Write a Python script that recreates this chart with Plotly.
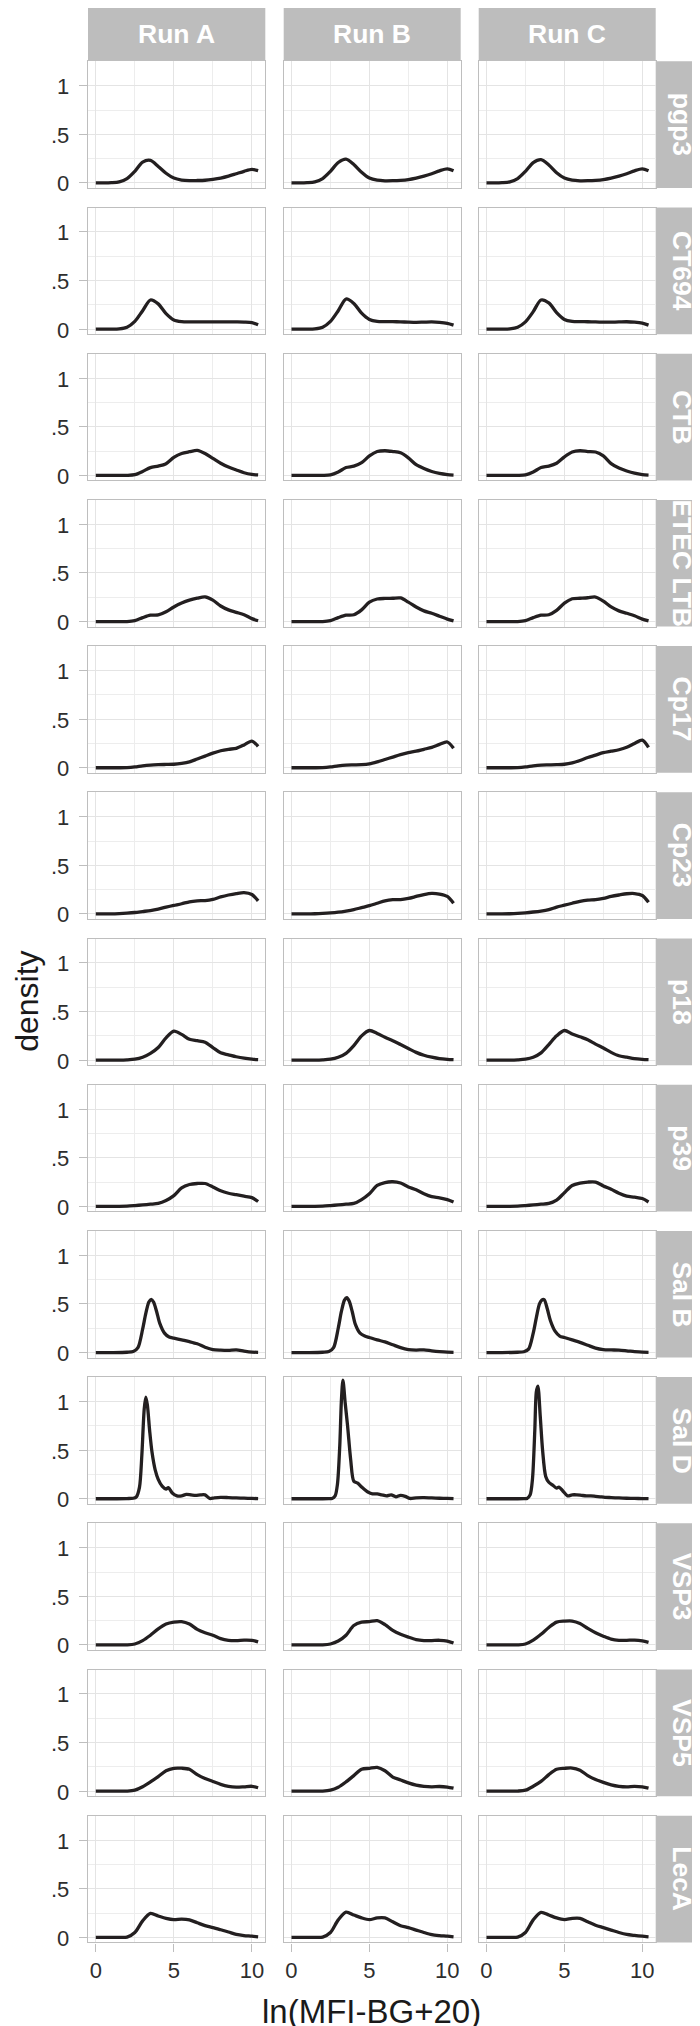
import plotly.graph_objects as go
from plotly.subplots import make_subplots

# ---------------- data ----------------
RUNS = ["Run A", "Run B", "Run C"]
ANTIGENS = ["pgp3", "CT694", "CTB", "ETEC LTB", "Cp17", "Cp23", "p18",
            "p39", "Sal B", "Sal D", "VSP3", "VSP5", "LecA"]

X_STD = [0, 0.5, 1, 1.5, 2, 2.5, 3, 3.5, 4, 4.5, 5, 5.5, 6, 6.5, 7, 7.5,
         8, 8.5, 9, 9.5, 10, 10.4]
X_SALB = [0, 1, 2, 2.4, 2.7, 3.0, 3.2, 3.4, 3.55, 3.7, 3.9, 4.1, 4.4, 4.7,
          5.0, 5.5, 6, 6.5, 7, 7.5, 8, 8.5, 9, 9.5, 10, 10.4]
X_SALD = [0, 1, 2, 2.4, 2.6, 2.8, 2.95, 3.1, 3.2, 3.3, 3.45, 3.6, 3.8, 4.0,
          4.25, 4.5, 4.65, 4.9, 5.2, 5.5, 5.8, 6.1, 6.4, 6.7, 7.0, 7.3, 7.6,
          8, 8.5, 9, 9.5, 10, 10.4]

PGP3 = [
    [0, 0, 0.003, 0.012, 0.045, 0.12, 0.215, 0.232, 0.17, 0.10, 0.05, 0.03, 0.024, 0.025, 0.028, 0.037, 0.05, 0.07, 0.095, 0.12, 0.14, 0.127],
    [0, 0, 0.003, 0.012, 0.045, 0.12, 0.21, 0.245, 0.19, 0.11, 0.05, 0.028, 0.022, 0.023, 0.027, 0.035, 0.05, 0.07, 0.095, 0.125, 0.145, 0.125],
    [0, 0, 0.003, 0.012, 0.045, 0.12, 0.21, 0.24, 0.185, 0.105, 0.05, 0.028, 0.022, 0.023, 0.027, 0.035, 0.05, 0.07, 0.095, 0.125, 0.145, 0.125],
]
CT694 = [
    [0, 0, 0, 0.003, 0.02, 0.08, 0.19, 0.30, 0.26, 0.16, 0.095, 0.078, 0.075, 0.075, 0.075, 0.075, 0.074, 0.074, 0.074, 0.073, 0.068, 0.045],
    [0, 0, 0, 0.003, 0.02, 0.08, 0.19, 0.31, 0.265, 0.165, 0.1, 0.08, 0.078, 0.077, 0.075, 0.072, 0.07, 0.072, 0.074, 0.07, 0.06, 0.042],
    [0, 0, 0, 0.003, 0.02, 0.075, 0.18, 0.30, 0.27, 0.17, 0.1, 0.08, 0.077, 0.076, 0.074, 0.072, 0.072, 0.074, 0.076, 0.072, 0.062, 0.042],
]
CTB = [
    [0, 0, 0, 0, 0, 0.007, 0.04, 0.08, 0.095, 0.12, 0.185, 0.225, 0.243, 0.257, 0.225, 0.175, 0.125, 0.085, 0.055, 0.027, 0.01, 0.004],
    [0, 0, 0, 0, 0, 0.005, 0.035, 0.08, 0.095, 0.13, 0.2, 0.245, 0.253, 0.245, 0.232, 0.18, 0.11, 0.07, 0.04, 0.02, 0.008, 0.003],
    [0, 0, 0, 0, 0, 0.005, 0.035, 0.08, 0.095, 0.125, 0.19, 0.24, 0.253, 0.245, 0.24, 0.2, 0.12, 0.075, 0.045, 0.022, 0.008, 0.003],
]
ETEC_LTB = [
    [0, 0, 0, 0, 0, 0.01, 0.04, 0.065, 0.068, 0.1, 0.15, 0.19, 0.22, 0.24, 0.253, 0.22, 0.16, 0.12, 0.095, 0.07, 0.03, 0.008],
    [0, 0, 0, 0, 0, 0.01, 0.04, 0.065, 0.07, 0.12, 0.2, 0.232, 0.238, 0.24, 0.243, 0.2, 0.15, 0.11, 0.085, 0.055, 0.025, 0.006],
    [0, 0, 0, 0, 0, 0.01, 0.04, 0.065, 0.07, 0.115, 0.19, 0.235, 0.24, 0.245, 0.252, 0.21, 0.15, 0.11, 0.085, 0.06, 0.025, 0.006],
]
CP17 = [
    [0, 0, 0, 0, 0.001, 0.008, 0.02, 0.028, 0.032, 0.034, 0.036, 0.045, 0.06, 0.09, 0.12, 0.15, 0.175, 0.19, 0.2, 0.235, 0.275, 0.22],
    [0, 0, 0, 0, 0.001, 0.008, 0.02, 0.028, 0.03, 0.032, 0.04, 0.06, 0.085, 0.11, 0.135, 0.155, 0.17, 0.19, 0.21, 0.24, 0.265, 0.2],
    [0, 0, 0, 0, 0.001, 0.008, 0.02, 0.028, 0.03, 0.032, 0.036, 0.05, 0.075, 0.105, 0.13, 0.155, 0.17, 0.185, 0.21, 0.25, 0.285, 0.21],
]
CP23 = [
    [0, 0, 0, 0.003, 0.008, 0.015, 0.025, 0.035, 0.05, 0.07, 0.088, 0.105, 0.125, 0.135, 0.138, 0.15, 0.175, 0.195, 0.21, 0.22, 0.2, 0.135],
    [0, 0, 0, 0.002, 0.005, 0.01, 0.018, 0.03, 0.045, 0.065, 0.085, 0.11, 0.135, 0.147, 0.148, 0.16, 0.18, 0.2, 0.212, 0.205, 0.18, 0.11],
    [0, 0, 0, 0.002, 0.006, 0.012, 0.02, 0.03, 0.045, 0.07, 0.09, 0.11, 0.13, 0.142, 0.147, 0.16, 0.18, 0.195, 0.208, 0.21, 0.19, 0.12],
]
P18 = [
    [0, 0, 0, 0, 0.003, 0.01, 0.03, 0.07, 0.13, 0.23, 0.298, 0.265, 0.215, 0.2, 0.185, 0.13, 0.075, 0.055, 0.035, 0.02, 0.01, 0.005],
    [0, 0, 0, 0, 0.003, 0.01, 0.03, 0.07, 0.15, 0.25, 0.305, 0.275, 0.235, 0.2, 0.16, 0.12, 0.08, 0.05, 0.03, 0.015, 0.008, 0.005],
    [0, 0, 0, 0, 0.003, 0.01, 0.03, 0.075, 0.16, 0.25, 0.305, 0.27, 0.24, 0.21, 0.165, 0.125, 0.08, 0.045, 0.03, 0.015, 0.008, 0.005],
]
P39 = [
    [0, 0, 0, 0, 0.002, 0.008, 0.015, 0.022, 0.03, 0.06, 0.11, 0.19, 0.225, 0.235, 0.235, 0.2, 0.16, 0.135, 0.12, 0.105, 0.09, 0.05],
    [0, 0, 0, 0, 0.002, 0.008, 0.015, 0.022, 0.03, 0.07, 0.13, 0.215, 0.245, 0.253, 0.24, 0.2, 0.17, 0.13, 0.1, 0.088, 0.07, 0.045],
    [0, 0, 0, 0, 0.002, 0.008, 0.015, 0.022, 0.03, 0.065, 0.14, 0.215, 0.24, 0.25, 0.25, 0.21, 0.175, 0.135, 0.105, 0.095, 0.08, 0.045],
]
SAL_B = [
    [0, 0, 0.003, 0.01, 0.05, 0.24, 0.4, 0.52, 0.548, 0.52, 0.42, 0.3, 0.2, 0.16, 0.148, 0.13, 0.112, 0.09, 0.055, 0.03, 0.024, 0.022, 0.027, 0.015, 0.005, 0.002],
    [0, 0, 0.003, 0.01, 0.05, 0.25, 0.42, 0.54, 0.565, 0.53, 0.42, 0.29, 0.2, 0.17, 0.155, 0.13, 0.11, 0.08, 0.05, 0.03, 0.025, 0.028, 0.018, 0.01, 0.004, 0.002],
    [0, 0, 0.003, 0.008, 0.035, 0.2, 0.36, 0.5, 0.54, 0.545, 0.45, 0.33, 0.22, 0.17, 0.155, 0.13, 0.105, 0.075, 0.045, 0.03, 0.027, 0.025, 0.018, 0.01, 0.004, 0.002],
]
SAL_D = [
    [0, 0, 0.002, 0.005, 0.02, 0.12, 0.45, 0.92, 1.045, 0.97, 0.7, 0.48, 0.3, 0.2, 0.13, 0.1, 0.115, 0.06, 0.03, 0.03, 0.045, 0.04, 0.035, 0.04, 0.04, 0.003, 0.01, 0.015, 0.012, 0.008, 0.006, 0.003, 0.001],
    [0, 0, 0, 0.001, 0.003, 0.03, 0.15, 0.55, 1.0, 1.22, 0.98, 0.75, 0.4, 0.18, 0.16, 0.12, 0.1, 0.07, 0.05, 0.05, 0.04, 0.03, 0.04, 0.02, 0.035, 0.025, 0.003, 0.01, 0.012, 0.008, 0.005, 0.003, 0.001],
    [0, 0, 0, 0.001, 0.003, 0.04, 0.2, 0.7, 1.1, 1.16, 0.85, 0.5, 0.23, 0.17, 0.14, 0.11, 0.12, 0.08, 0.03, 0.04, 0.04, 0.035, 0.03, 0.03, 0.025, 0.02, 0.015, 0.012, 0.008, 0.005, 0.003, 0.002, 0.001],
]
VSP3 = [
    [0, 0, 0, 0, 0.001, 0.01, 0.045, 0.1, 0.165, 0.215, 0.235, 0.24, 0.215, 0.16, 0.125, 0.1, 0.065, 0.048, 0.045, 0.05, 0.048, 0.032],
    [0, 0, 0, 0, 0.001, 0.01, 0.04, 0.1, 0.2, 0.235, 0.24, 0.25, 0.21, 0.15, 0.11, 0.08, 0.055, 0.045, 0.045, 0.048, 0.04, 0.02],
    [0, 0, 0, 0, 0.001, 0.01, 0.05, 0.11, 0.18, 0.235, 0.245, 0.246, 0.22, 0.17, 0.125, 0.09, 0.06, 0.048, 0.048, 0.05, 0.042, 0.027],
]
VSP5 = [
    [0, 0, 0, 0, 0.001, 0.01, 0.045, 0.095, 0.15, 0.21, 0.235, 0.236, 0.225, 0.17, 0.13, 0.1, 0.07, 0.05, 0.042, 0.045, 0.05, 0.035],
    [0, 0, 0, 0, 0.001, 0.01, 0.04, 0.095, 0.16, 0.225, 0.235, 0.245, 0.21, 0.145, 0.115, 0.085, 0.062, 0.05, 0.045, 0.048, 0.042, 0.03],
    [0, 0, 0, 0, 0.001, 0.01, 0.05, 0.1, 0.17, 0.225, 0.235, 0.238, 0.215, 0.16, 0.12, 0.09, 0.065, 0.05, 0.045, 0.05, 0.045, 0.032],
]
LECA = [
    [0, 0, 0, 0, 0.003, 0.05, 0.17, 0.247, 0.22, 0.195, 0.182, 0.188, 0.18, 0.15, 0.12, 0.1, 0.078, 0.055, 0.03, 0.018, 0.012, 0.005],
    [0, 0, 0, 0, 0.003, 0.05, 0.18, 0.26, 0.23, 0.2, 0.182, 0.2, 0.2, 0.16, 0.12, 0.1, 0.075, 0.05, 0.028, 0.018, 0.012, 0.005],
    [0, 0, 0, 0, 0.003, 0.05, 0.18, 0.257, 0.23, 0.2, 0.183, 0.195, 0.195, 0.16, 0.125, 0.1, 0.075, 0.05, 0.03, 0.02, 0.012, 0.005],
]

SERIES = [PGP3, CT694, CTB, ETEC_LTB, CP17, CP23, P18, P39, SAL_B, SAL_D,
          VSP3, VSP5, LECA]
X_GRIDS = [X_STD] * 8 + [X_SALB, X_SALD] + [X_STD] * 3

X_TICKS = [0, 5, 10]
X_TICK_TEXT = ["0", "5", "10"]
Y_TICKS = [0, 0.5, 1]
Y_TICK_TEXT = ["0", ".5", "1"]

# ---------------- geometry (pixels) ----------------
W, H = 700, 2026
COLS_PX = [(80, 257.3), (275.7, 452.7), (470.7, 647.7)]
ROW_TOP0, ROW_PITCH, PANEL_H = 53.3, 146.2, 126.7
STRIP_TOP_H = 53.0
STRIP_RIGHT = (647.7, 700)

FONT = "Liberation Sans, Arial, Helvetica, sans-serif"
STRIP_COLOR = "#BDBDBD"
BORDER = "#BEBEBE"
GRID = "#E4E4E4"
GRID_MINOR = "#EDEDED"
TEXT = "#2E2E2E"


def px_x(p):
    return p / W


def px_y(p):
    return 1 - p / H


n_rows, n_cols = len(ANTIGENS), len(RUNS)
fig = make_subplots(rows=n_rows, cols=n_cols)
annotations = []

for r in range(n_rows):
    for c in range(n_cols):
        fig.add_trace(
            go.Scatter(
                x=X_GRIDS[r], y=SERIES[r][c], mode="lines",
                line=dict(color="#231F20", width=3.3, shape="spline",
                          smoothing=0.8),
                showlegend=False, hoverinfo="skip",
            ),
            row=r + 1, col=c + 1,
        )

        idx = r * n_cols + c + 1
        sfx = "" if idx == 1 else str(idx)
        top = ROW_TOP0 + ROW_PITCH * r
        bottom = top + PANEL_H
        x0, x1 = COLS_PX[c]
        last_row = r == n_rows - 1
        first_col = c == 0

        fig.layout["xaxis" + sfx].update(
            domain=[px_x(x0), px_x(x1)],
            range=[-0.5, 10.86],
            tickvals=X_TICKS, ticktext=X_TICK_TEXT,
            showticklabels=last_row,
            ticks="outside" if last_row else "",
            ticklen=8, tickwidth=1.2, tickcolor=BORDER,
            tickfont=dict(family=FONT, size=22, color=TEXT),
            showline=True, mirror=True, linecolor=BORDER, linewidth=1.3,
            showgrid=True, gridcolor=GRID, gridwidth=1,
            minor=dict(tickvals=[2.5, 7.5], showgrid=True,
                       gridcolor=GRID_MINOR, gridwidth=1),
            zeroline=False, fixedrange=True,
        )
        fig.layout["yaxis" + sfx].update(
            domain=[px_y(bottom), px_y(top)],
            range=[-0.052, 1.252],
            tickvals=Y_TICKS,
            showticklabels=False,
            ticks="outside" if first_col else "",
            ticklen=8, tickwidth=1.2, tickcolor=BORDER,
            showline=True, mirror=True, linecolor=BORDER, linewidth=1.3,
            showgrid=True, gridcolor=GRID, gridwidth=1,
            minor=dict(tickvals=[0.25, 0.75], showgrid=True,
                       gridcolor=GRID_MINOR, gridwidth=1),
            zeroline=False, fixedrange=True,
        )

        # y tick labels (right-aligned, ggplot-like gap from the ticks)
        if first_col:
            for val, txt in zip(Y_TICKS, Y_TICK_TEXT):
                annotations.append(dict(
                    text=txt, xref=f"x{sfx} domain", yref=f"y{sfx}",
                    x=0, y=val, xanchor="right", yanchor="middle",
                    xshift=-17, yshift=-1, showarrow=False,
                    font=dict(family=FONT, size=22, color=TEXT),
                ))

shapes = []

# top strips (runs)
for c, run in enumerate(RUNS):
    x0, x1 = COLS_PX[c]
    shapes.append(dict(type="rect", xref="paper", yref="paper",
                       x0=px_x(x0), x1=px_x(x1),
                       y0=px_y(STRIP_TOP_H), y1=1,
                       fillcolor=STRIP_COLOR, line=dict(width=0),
                       layer="below"))
    annotations.append(dict(
        text=f"<b>{run}</b>", xref="paper", yref="paper",
        x=px_x((x0 + x1) / 2), y=px_y(STRIP_TOP_H / 2),
        xanchor="center", yanchor="middle", showarrow=False,
        font=dict(family=FONT, size=26.5, color="white"),
    ))

# right strips (antigens)
for r, ag in enumerate(ANTIGENS):
    top = ROW_TOP0 + ROW_PITCH * r
    bottom = top + PANEL_H
    shapes.append(dict(type="rect", xref="paper", yref="paper",
                       x0=px_x(STRIP_RIGHT[0]), x1=1,
                       y0=px_y(bottom), y1=px_y(top),
                       fillcolor=STRIP_COLOR, line=dict(width=0),
                       layer="below"))
    annotations.append(dict(
        text=f"<b>{ag}</b>", xref="paper", yref="paper",
        x=px_x(sum(STRIP_RIGHT) / 2), y=px_y((top + bottom) / 2),
        xanchor="center", yanchor="middle", showarrow=False, textangle=90,
        font=dict(family=FONT, size=26.5, color="white"),
    ))

# axis titles
annotations.append(dict(
    text="density", xref="paper", yref="paper",
    x=px_x(19), y=px_y((ROW_TOP0 + ROW_TOP0 + ROW_PITCH * 12 + PANEL_H) / 2),
    xanchor="center", yanchor="middle", showarrow=False, textangle=-90,
    font=dict(family=FONT, size=32, color="#1A1A1A"),
))
annotations.append(dict(
    text="ln(MFI-BG+20)", xref="paper", yref="paper",
    x=px_x((COLS_PX[0][0] + COLS_PX[2][1]) / 2), y=px_y(2003),
    xanchor="center", yanchor="middle", showarrow=False,
    font=dict(family=FONT, size=33, color="#1A1A1A"),
))

fig.update_layout(
    width=W, height=H,
    margin=dict(l=0, r=0, t=0, b=0),
    paper_bgcolor="white", plot_bgcolor="white",
    shapes=shapes, annotations=annotations,
    showlegend=False,
    font=dict(family=FONT, color=TEXT),
)

fig.write_html("out.html")
